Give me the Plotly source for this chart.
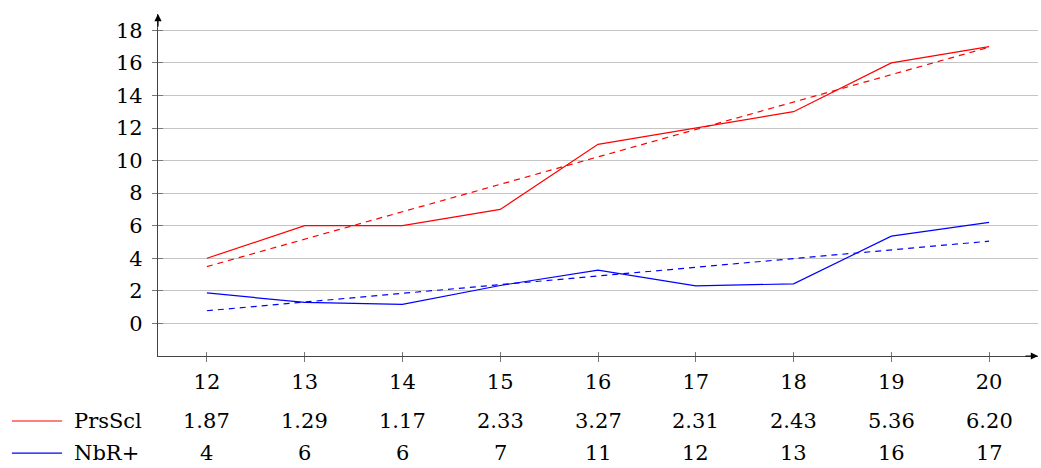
import plotly.graph_objects as go

years = [12, 13, 14, 15, 16, 17, 18, 19, 20]
red_line = [4, 6, 6, 7, 11, 12, 13, 16, 17]
blue_line = [1.87, 1.29, 1.17, 2.33, 3.27, 2.31, 2.43, 5.36, 6.20]
trend_x = [12, 20]
red_trend = [3.49, 16.96]
blue_trend = [0.78, 5.05]
row_names = ["PrsScl", "NbR+"]
row_colors = ["#ff0000", "#0000ff"]
row_values = [["1.87", "1.29", "1.17", "2.33", "3.27", "2.31", "2.43", "5.36", "6.20"],
              ["4", "6", "6", "7", "11", "12", "13", "16", "17"]]

FONT = "DejaVu Serif"
FS = 21

fig = go.Figure()
fig.add_trace(go.Scatter(x=years, y=red_line, mode="lines", line=dict(color="#ff0000", width=1.2)))
fig.add_trace(go.Scatter(x=trend_x, y=red_trend, mode="lines", line=dict(color="#ff0000", width=1.2, dash="6px,5px")))
fig.add_trace(go.Scatter(x=years, y=blue_line, mode="lines", line=dict(color="#0000ff", width=1.2)))
fig.add_trace(go.Scatter(x=trend_x, y=blue_trend, mode="lines", line=dict(color="#0000ff", width=1.2, dash="6px,5px")))
# invisible trace to carry the inner tick axes
fig.add_trace(go.Scatter(x=[12], y=[0], xaxis="x2", yaxis="y2", mode="markers", marker=dict(opacity=0), hoverinfo="skip"))

fig.update_layout(
    width=1041, height=468,
    margin=dict(l=158, r=3, t=14, b=112),
    paper_bgcolor="white", plot_bgcolor="white",
    showlegend=False,
    font=dict(family=FONT, size=FS, color="black"),
    xaxis=dict(range=[11.5, 20.5], tickvals=years, showgrid=False, zeroline=False,
               showline=True, linecolor="#444", linewidth=1.2,
               ticks="outside", ticklen=5, tickcolor="#777", tickwidth=1,
               ticklabelstandoff=2, tickfont=dict(family=FONT, size=FS)),
    yaxis=dict(range=[-2, 19], tickvals=list(range(0, 19, 2)), showgrid=True, gridcolor="#c4c4c4",
               gridwidth=1, zeroline=False, showline=True, linecolor="#444", linewidth=1.2,
               ticks="outside", ticklen=5, tickcolor="#777", tickwidth=1,
               ticklabelstandoff=5, tickfont=dict(family=FONT, size=FS)),
    xaxis2=dict(overlaying="x", matches="x", side="bottom", tickvals=years, showticklabels=False,
                ticks="inside", ticklen=4, tickcolor="#777", showgrid=False, zeroline=False, showline=False),
    yaxis2=dict(overlaying="y", matches="y", side="left", tickvals=list(range(0, 19, 2)), showticklabels=False,
                ticks="inside", ticklen=5, tickcolor="#777", showgrid=False, zeroline=False, showline=False),
)

# axis arrows
fig.add_annotation(x=1.0, y=0, xref="paper", yref="paper", ax=-14, ay=0,
                   text="", showarrow=True, arrowhead=2, arrowsize=1.2, arrowwidth=1.2, arrowcolor="black")
fig.add_annotation(x=0, y=1.0, xref="paper", yref="paper", ax=0, ay=14,
                   text="", showarrow=True, arrowhead=2, arrowsize=1.2, arrowwidth=1.2, arrowcolor="black")

# table below the axis
row_y = [-0.19, -0.284]
for name, color, vals, ry in zip(row_names, row_colors, row_values, row_y):
    fig.add_shape(type="line", xref="paper", yref="paper", x0=-0.166, x1=-0.109, y0=ry, y1=ry,
                  line=dict(color=color, width=1.2))
    fig.add_annotation(x=-0.098, y=ry, xref="paper", yref="paper", text=name, showarrow=False,
                       xanchor="left", yanchor="middle", font=dict(family=FONT, size=FS))
    for xv, v in zip(years, vals):
        fig.add_annotation(x=xv, y=ry, xref="x", yref="paper", text=v, showarrow=False,
                           xanchor="center", yanchor="middle", font=dict(family=FONT, size=FS))

fig.write_html("out.html", config={"displayModeBar": False},
               post_script="document.body.style.margin='0';")
